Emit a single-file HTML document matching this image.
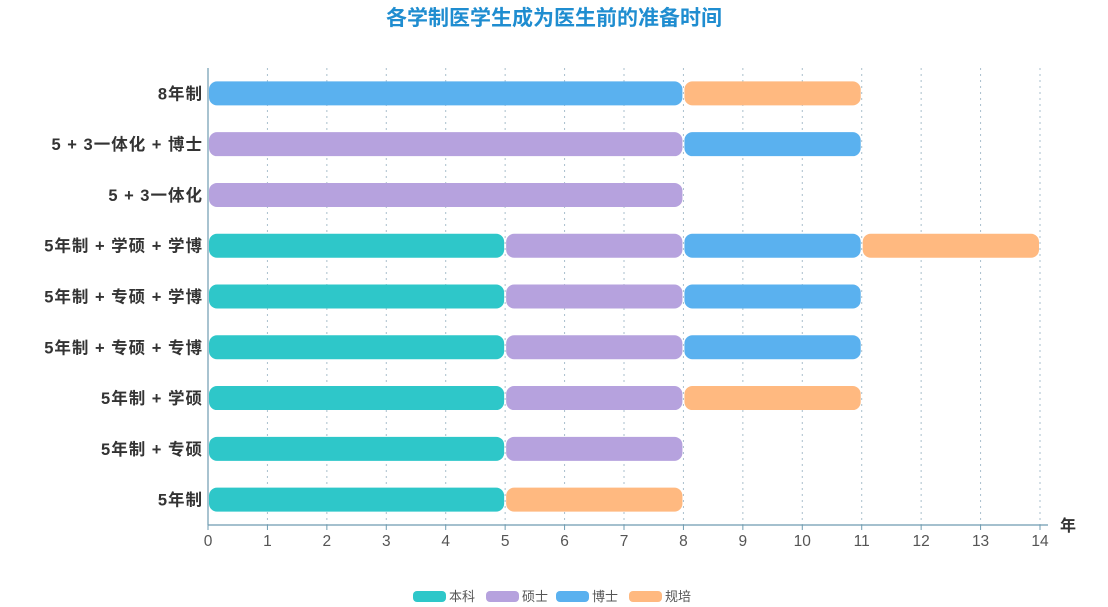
<!DOCTYPE html>
<html><head><meta charset="utf-8"><style>
html,body{margin:0;padding:0;background:#fff;width:1108px;height:607px;overflow:hidden}
</style></head><body>
<svg id="c" width="1108" height="607" xmlns="http://www.w3.org/2000/svg" style="font-family:'Liberation Sans','Noto Sans CJK SC',sans-serif">
<text x="554" y="25" text-anchor="middle" font-size="21" font-weight="bold" fill="#1f8dd0">各学制医学生成为医生前的准备时间</text>
</svg>
<script>
const categories=["8年制","5+3一体化+博士","5+3一体化","5年制+学硕+学博","5年制+专硕+学博","5年制+专硕+专博","5年制+学硕","5年制+专硕","5年制"];
const seriesNames=["本科","硕士","博士","规培"];
const benke=[0,0,0,5,5,5,5,5,5];
const shuoshi=[0,8,8,3,3,3,3,3,0];
const boshi=[8,3,0,3,3,3,0,0,0];
const guipei=[3,0,0,3,0,0,3,0,3];
const xTicks=[0,1,2,3,4,5,6,7,8,9,10,11,12,13,14];
const colors=["#2ec7c9","#b6a2de","#5ab1ef","#ffb980"];
const svg=document.getElementById('c');const NS="http://www.w3.org/2000/svg";
function mk(t,a){const e=document.createElementNS(NS,t);for(const k in a)e.setAttribute(k,a[k]);svg.appendChild(e);return e;}
const x0=208,x1=1040,yTop=68,yBot=525;
const xs=v=>x0+(v-xTicks[0])/(xTicks[xTicks.length-1]-xTicks[0])*(x1-x0);
const band=(yBot-yTop)/categories.length;
const yc=i=>yTop+band*(i+0.5);
xTicks.forEach(t=>{
 if(t>0){const g=mk('line',{x1:xs(t),x2:xs(t),y1:yTop,y2:yBot,stroke:'#a9bfcc','stroke-dasharray':'2,4','stroke-width':1});
 
 }
 const tl=mk('text',{x:xs(t),y:yBot+21,'text-anchor':'middle','font-size':15.5,fill:'#555'});tl.textContent=t;
 
 
 const tk=mk('line',{x1:xs(t),x2:xs(t),y1:yBot,y2:yBot+5,stroke:'#6e9bb0'});
 
 
});
const ax=mk('line',{x1:x0,x2:x1+8,y1:yBot,y2:yBot,stroke:'#6e9bb0','stroke-width':1.2});


const ay=mk('line',{x1:x0,x2:x0,y1:yTop,y2:yBot,stroke:'#6e9bb0','stroke-width':1.2});


const un=mk('text',{x:1060,y:yBot+6,'font-size':16,'font-weight':'bold',fill:'#333'});un.textContent='年';


const data=[benke,shuoshi,boshi,guipei];
categories.forEach((c,i)=>{
 const l=mk('text',{x:203,y:yc(i)+6,'text-anchor':'end','font-size':16.5,'font-weight':'bold',fill:'#333','letter-spacing':1,'xml:space':'preserve'});
 l.setAttribute('style','white-space:pre');
 l.textContent=c.split('+').join(' + ');
 
 
 let acc=0;
 data.forEach((s,k)=>{
  const v=s[i];if(v<=0)return;
  const r=mk('rect',{x:xs(acc)+1,y:yc(i)-12,width:xs(acc+v)-xs(acc)-2,height:24,rx:8,fill:colors[k]});
  
  
  acc+=v;
 });
});
const lx=[413,486,556,629];
seriesNames.forEach((n,k)=>{
 const r=mk('rect',{x:lx[k],y:591,width:33,height:11,rx:4,fill:colors[k]});
 
 
 const t=mk('text',{x:lx[k]+36,y:601,'font-size':13,fill:'#555'});t.textContent=n;
 
 
});
</script>
</body></html>
